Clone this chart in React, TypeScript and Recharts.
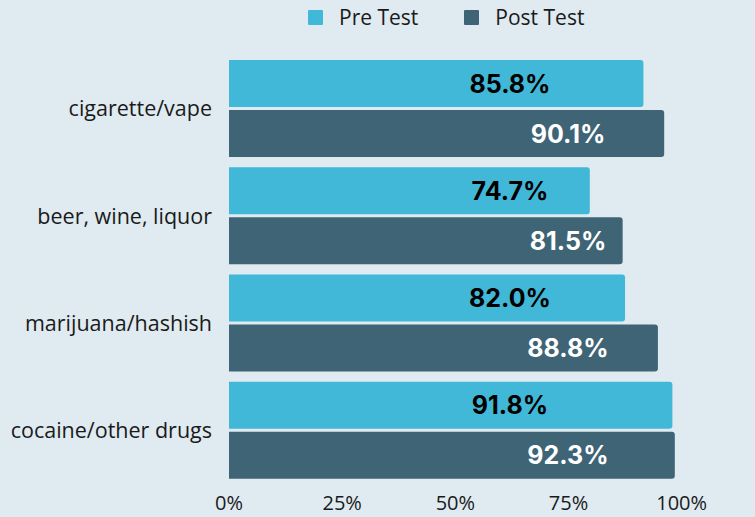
import React from 'react';
import { ComposedChart, Bar, Line, XAxis, YAxis, Legend, LabelList } from 'recharts';

const categories = ['cigarette/vape', 'beer, wine, liquor', 'marijuana/hashish', 'cocaine/other drugs'];
const preTest = [85.8, 74.7, 82.0, 91.8];
const postTest = [90.1, 81.5, 88.8, 92.3];
const xTicks = [0, 25, 50, 75, 100];

const PRE_COLOR = '#41b8d7';
const POST_COLOR = '#3e6475';
const BG = '#dfeaf1';

const data = categories.map((name, i) => ({ name, pre: preTest[i], post: postTest[i] }));

const legendItems = [
    { label: 'Pre Test', color: PRE_COLOR },
    { label: 'Post Test', color: POST_COLOR },
];

const ChartLegend = () => (
    <div style={{ height: 55, display: 'flex', alignItems: 'flex-start', paddingLeft: 308, boxSizing: 'border-box', paddingTop: 4 }}>
        {legendItems.map((item, i) => (
            <div key={item.label} style={{ display: 'flex', alignItems: 'center', marginRight: i === 0 ? 46 : 0 }}>
                <span style={{ width: 15, height: 15, background: item.color, display: 'inline-block', marginRight: 16, borderRadius: 1 }} />
                <span style={{ fontFamily: '"Open Sans", sans-serif', fontSize: 21, color: '#1a1a1a', lineHeight: '26px' }}>{item.label}</span>
            </div>
        ))}
    </div>
);

// labels sit at a fixed distance from the bar start, like in the original
const makeLabel = (color: string, shift: number) => (props: any) => {
    const { x, y, height, value } = props;
    return (
        <text
            x={x + shift}
            y={y + height / 2}
            textAnchor="middle"
            dominantBaseline="central"
            fill={color}
            style={{ fontFamily: 'Inter, sans-serif', fontWeight: 700, fontSize: 25 }}
        >
            {Number(value).toFixed(1)}%
        </text>
    );
};

export default function App() {
    return (
        <div style={{ position: 'absolute', left: 0, top: 0, width: 755, height: 517, background: BG }}>
            <ComposedChart
                width={755}
                height={517}
                data={data}
                layout="vertical"
                margin={{ top: 0, right: 43, left: 0, bottom: 1 }}
                barSize={47}
                barGap={3}
            >
                <Legend verticalAlign="top" content={<ChartLegend />} />
                <XAxis xAxisId="bars" type="number" domain={[0, 100]} orientation="top" height={0} hide />
                <XAxis
                    xAxisId="ticks"
                    type="number"
                    domain={[0, 106.7]}
                    ticks={xTicks}
                    tickFormatter={(v: number) => `${v}%`}
                    axisLine={false}
                    tickLine={false}
                    tickSize={0}
                    tickMargin={12}
                    height={32}
                    tick={{ fontSize: 20, fill: '#1a1a1a', fontFamily: '"Open Sans", sans-serif' }}
                />
                <YAxis
                    type="category"
                    dataKey="name"
                    width={229}
                    axisLine={false}
                    tickLine={false}
                    tickSize={0}
                    tickMargin={17}
                    tick={{ fontSize: 21.5, fill: '#1a1a1a', fontFamily: '"Open Sans", sans-serif' }}
                />
                <Bar xAxisId="bars" dataKey="pre" name="Pre Test" fill={PRE_COLOR} radius={[0, 3, 3, 0]} isAnimationActive={false}>
                    <LabelList dataKey="pre" content={makeLabel('#000000', 281)} />
                </Bar>
                <Bar xAxisId="bars" dataKey="post" name="Post Test" fill={POST_COLOR} radius={[0, 3, 3, 0]} isAnimationActive={false}>
                    <LabelList dataKey="post" content={makeLabel('#ffffff', 339)} />
                </Bar>
                {/* the tick axis of the original is drawn on its own scale; this empty line only anchors it */}
                <Line xAxisId="ticks" dataKey="pre" stroke="none" dot={false} activeDot={false} legendType="none" isAnimationActive={false} />
            </ComposedChart>
        </div>
    );
}
